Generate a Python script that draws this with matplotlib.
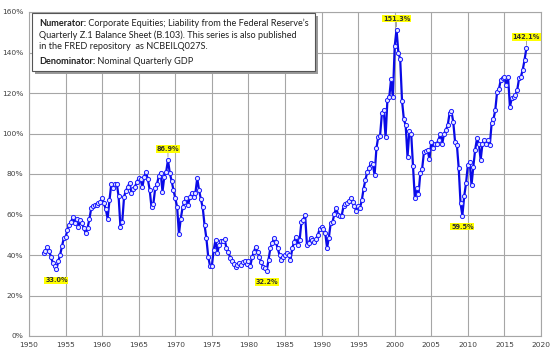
import numpy as np
import pandas as pd
import matplotlib
matplotlib.use("Agg")
import matplotlib.pyplot as plt
from matplotlib.patches import Rectangle

# corporate equities / nominal GDP, in percent, quarterly
q4_1951 = [41.0]
ratio_by_year = [
    [42.1, 43.8, 42.1, 39.2],     # 1952
    [36.2, 34.8, 33.0, 36.9],     # 1953
    [40.0, 44.2, 48.2, 48.7],     # 1954
    [52.3, 54.8, 56.4, 58.6],     # 1955
    [55.6, 57.6, 53.6, 57.1],     # 1956
    [55.8, 53.2, 50.7, 53.2],     # 1957
    [57.6, 63.0, 64.2, 64.5],     # 1958
    [64.7, 65.5, 66.3, 68.0],     # 1959
    [65.5, 62.5, 58.0, 67.0],     # 1960
    [75.0, 73.0, 75.0, 75.3],     # 1961
    [69.0, 54.0, 56.5, 68.8],     # 1962
    [71.8, 73.5, 75.7, 70.8],     # 1963
    [72.5, 73.8, 76.1, 77.9],     # 1964
    [77.4, 73.5, 78.7, 80.8],     # 1965
    [77.4, 72.1, 63.5, 65.2],     # 1966
    [72.9, 75.0, 79.0, 80.7],     # 1967
    [71.3, 78.7, 81.0, 86.9],     # 1968
    [80.5, 76.6, 72.1, 68.0],     # 1969
    [63.8, 50.4, 58.0, 63.5],     # 1970
    [66.0, 68.0, 64.8, 68.6],     # 1971
    [70.8, 68.6, 70.6, 77.9],     # 1972
    [72.1, 67.5, 63.5, 54.8],     # 1973
    [48.3, 39.2, 34.6, 34.6],     # 1974
    [42.5, 47.4, 41.0, 45.0],     # 1975
    [47.0, 47.0, 47.7, 43.3],     # 1976
    [41.6, 38.7, 37.2, 35.4],     # 1977
    [34.2, 35.0, 36.0, 35.0],     # 1978
    [36.4, 37.0, 35.4, 37.2],     # 1979
    [34.5, 38.9, 41.6, 44.1],     # 1980
    [41.6, 38.9, 36.4, 34.2],     # 1981
    [33.4, 32.2, 37.6, 43.3],     # 1982
    [45.8, 48.3, 46.3, 43.3],     # 1983
    [40.0, 37.6, 38.9, 39.8],     # 1984
    [41.0, 40.0, 37.6, 43.3],     # 1985
    [46.6, 49.1, 45.0, 47.4],     # 1986
    [56.5, 57.3, 59.8, 45.0],     # 1987
    [46.0, 48.3, 47.4, 46.6],     # 1988
    [48.0, 50.0, 53.0, 54.0],     # 1989
    [52.7, 51.0, 43.5, 48.6],     # 1990
    [55.8, 56.3, 60.4, 63.2],     # 1991
    [60.0, 59.5, 59.5, 64.0],     # 1992
    [65.2, 65.8, 66.5, 68.0],     # 1993
    [66.0, 64.0, 61.7, 64.0],     # 1994
    [63.2, 67.0, 72.8, 77.2],     # 1995
    [81.0, 83.1, 85.3, 84.8],     # 1996
    [79.5, 92.7, 98.4, 99.0],     # 1997
    [110.0, 111.6, 98.1, 116.5],  # 1998
    [117.8, 126.7, 118.0, 143.2], # 1999
    [151.3, 140.0, 136.6, 116.2], # 2000
    [107.0, 104.0, 88.5, 101.0],  # 2001
    [100.0, 84.0, 68.0, 73.0],    # 2002
    [70.0, 80.3, 82.5, 91.0],     # 2003
    [91.5, 92.0, 87.2, 96.0],     # 2004
    [93.0, 95.0, 95.0, 97.0],     # 2005
    [100.0, 95.0, 100.0, 101.7],  # 2006
    [104.2, 110.0, 111.0, 105.8], # 2007
    [96.0, 94.5, 82.8, 65.5],     # 2008
    [59.5, 69.0, 75.4, 84.4],     # 2009
    [86.0, 74.6, 83.7, 92.0],     # 2010
    [97.6, 95.0, 87.0, 95.0],     # 2011
    [96.8, 95.0, 96.8, 94.3],     # 2012
    [105.0, 107.0, 111.6, 120.6], # 2013
    [122.0, 126.4, 127.2, 127.7], # 2014
    [124.0, 127.7, 113.2, 117.3], # 2015
    [118.0, 119.0, 121.5, 127.2], # 2016
    [128.0, 131.4, 136.3, 142.1], # 2017
]
ratio = np.array(q4_1951 + [v for row in ratio_by_year for v in row])

quarters = pd.period_range("1951Q4", "2017Q4", freq="Q")
xq = np.asarray(quarters.year + quarters.quarter / 4.0, dtype=float)  # quarter end

# highs and lows that get a yellow tag (quarter, tag above the point?)
callouts = [("1953Q3", False), ("1968Q4", True), ("1982Q2", False),
            ("2000Q1", True), ("2009Q1", False), ("2017Q4", True)]

x_ticks = list(range(1950, 2021, 5))
y_ticks = list(range(0, 161, 20))

W, H = 550, 355
fig = plt.figure(figsize=(W / 100, H / 100), dpi=100)
ax = fig.add_axes([29 / W, 1 - 336 / H, (541 - 29) / W, (336 - 12) / H])

ax.plot(xq, ratio, color="#0a0ae6", lw=1.6, zorder=3,
        marker="o", ms=3.0, mfc="#e4e6ff", mec="#1a1aff", mew=0.7)

ax.set_xlim(1950, 2020)
ax.set_ylim(0, 160)
ax.set_xticks(x_ticks)
ax.set_yticks(y_ticks)
ax.set_yticklabels([f"{t}%" for t in y_ticks])
ax.grid(True, color="#a6a6a6", lw=0.8)
ax.set_axisbelow(True)
for s in ax.spines.values():
    s.set_color("#a6a6a6")
    s.set_linewidth(0.8)
ax.tick_params(length=0, labelsize=5.4, colors="#404040", pad=4)

qnames = list(quarters.astype(str))
for q, above in callouts:
    i = qnames.index(q)
    val = ratio[i]
    dy = 8 if above else -8
    kw = {}
    if above:
        kw["arrowprops"] = dict(arrowstyle="-", color="#808080", lw=0.5,
                                shrinkA=0, shrinkB=2)
    ax.annotate(f"{val:.1f}%", (xq[i], val), xytext=(0, dy),
                textcoords="offset points", ha="center", va="center",
                fontsize=4.7, fontweight="bold", color="#303030",
                bbox=dict(boxstyle="square,pad=0.1", fc="#ffff00", ec="none"),
                zorder=5, **kw)

# note box with shadow
bx0, by0, bx1, by1 = 32, 13, 315, 71
fig.patches.append(Rectangle((bx0 / W + 2.5 / W, 1 - by1 / H - 2.5 / H),
                             (bx1 - bx0) / W, (by1 - by0) / H,
                             transform=fig.transFigure, fc="#9a9a9a",
                             ec="none", zorder=8))
fig.patches.append(Rectangle((bx0 / W, 1 - by1 / H), (bx1 - bx0) / W,
                             (by1 - by0) / H, transform=fig.transFigure,
                             fc="white", ec="#555555", lw=0.8, zorder=9))

fnt = dict(family="Lato", fontsize=6.6, color="#202020", va="center", zorder=10)
lines = [
    ("Numerator:", " Corporate Equities; Liability from the Federal Reserve\u2019s", 23.5),
    ("", "Quarterly Z.1 Balance Sheet (B.103). This series is also published", 35.0),
    ("", "in the FRED repository  as NCBEILQ027S.", 46.5),
    ("Denominator:", " Nominal Quarterly GDP", 61.5),
]
fig.canvas.draw()
r = fig.canvas.get_renderer()
for bold, rest, ypx in lines:
    x0 = 39 / W
    if bold:
        t = fig.text(x0, 1 - ypx / H, bold, fontweight="bold", **fnt)
        bb = t.get_window_extent(renderer=r)
        x0 = bb.x1 / W
    fig.text(x0, 1 - ypx / H, rest, **fnt)

fig.savefig("out.png", dpi=100)
